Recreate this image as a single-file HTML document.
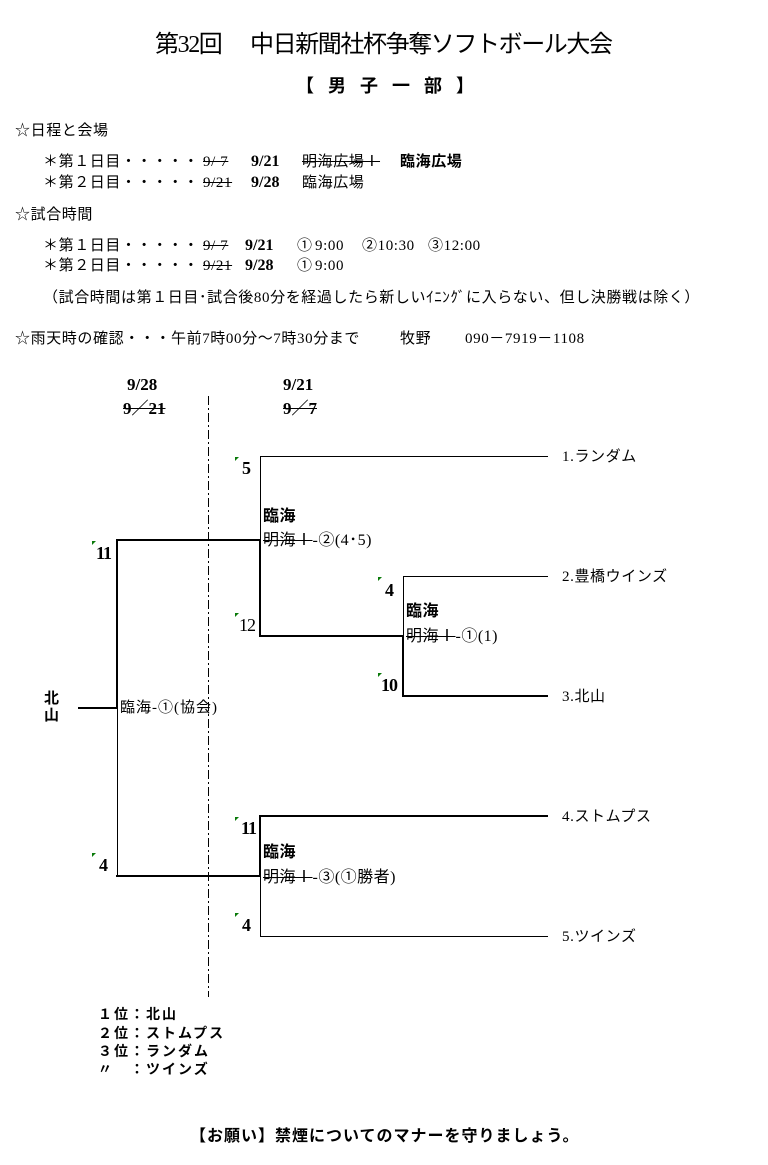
<!DOCTYPE html>
<html lang="ja">
<head>
<meta charset="utf-8">
<style>
html,body{margin:0;padding:0;background:#fff;}
#pg{position:relative;width:768px;height:1165px;overflow:hidden;background:#fff;}
.t{position:absolute;white-space:nowrap;font-family:"Liberation Serif","Noto Sans CJK JP",sans-serif;color:#000;line-height:1;}
.b{font-weight:bold;}
.s{text-decoration:line-through;}
.f15{font-size:15px;letter-spacing:.6px;}
.f16{font-size:16px;letter-spacing:.5px;}
.n{font-size:18px;font-weight:bold;letter-spacing:-1px;}
.h{font-size:17px;font-weight:bold;}
svg{position:absolute;left:0;top:0;}
</style>
</head>
<body>
<div id="pg">
<svg width="768" height="1165" viewBox="0 0 768 1165">
  <g stroke="#000" fill="none">
    <!-- dashed divider -->
    <line x1="208.5" y1="396" x2="208.5" y2="997" stroke-width="1" stroke-dasharray="9,3,2,3"/>
    <!-- final -->
    <line x1="78" y1="708" x2="118" y2="708" stroke-width="2"/>
    <line x1="117" y1="539" x2="117" y2="708" stroke-width="2"/>
    <line x1="117.5" y1="708" x2="117.5" y2="877" stroke-width="1"/>
    <line x1="116" y1="540" x2="261" y2="540" stroke-width="2"/>
    <line x1="116" y1="876" x2="261" y2="876" stroke-width="2"/>
    <!-- upper bracket -->
    <line x1="260" y1="456.5" x2="548" y2="456.5" stroke-width="1"/>
    <line x1="260.5" y1="456" x2="260.5" y2="540" stroke-width="1"/>
    <line x1="260" y1="539" x2="260" y2="637" stroke-width="2"/>
    <line x1="259" y1="636" x2="404" y2="636" stroke-width="2"/>
    <!-- inner bracket -->
    <line x1="403" y1="576.5" x2="548" y2="576.5" stroke-width="1"/>
    <line x1="403.5" y1="576" x2="403.5" y2="636" stroke-width="1"/>
    <line x1="403" y1="635" x2="403" y2="697" stroke-width="2"/>
    <line x1="402" y1="696" x2="548" y2="696" stroke-width="2"/>
    <!-- lower bracket -->
    <line x1="259" y1="816" x2="548" y2="816" stroke-width="2"/>
    <line x1="260" y1="815" x2="260" y2="877" stroke-width="2"/>
    <line x1="260.5" y1="876" x2="260.5" y2="936" stroke-width="1"/>
    <line x1="260" y1="936.5" x2="548" y2="936.5" stroke-width="1"/>
  </g>
  <g fill="#0a7a0a">
    <polygon points="235,457 239,457 235,461"/>
    <polygon points="92,541 96,541 92,545"/>
    <polygon points="235,613 239,613 235,617"/>
    <polygon points="378,577 382,577 378,581"/>
    <polygon points="378,673 382,673 378,677"/>
    <polygon points="235,817 239,817 235,821"/>
    <polygon points="92,853 96,853 92,857"/>
    <polygon points="235,913 239,913 235,917"/>
  </g>
</svg>

<!-- Title -->
<div class="t" style="left:155px;top:33px;font-size:24px;letter-spacing:-1.4px;">第32回</div>
<div class="t" style="left:250px;top:33px;font-size:24px;letter-spacing:-1.4px;">中日新聞社杯争奪ソフトボール大会</div>
<div class="t b" style="left:296px;top:77px;font-size:18px;letter-spacing:14px;">【男子一部】</div>

<!-- Schedule -->
<div class="t f15" style="left:15px;top:124px;">☆日程と会場</div>
<div class="t f15" style="left:43px;top:155px;">＊第１日目・・・・・</div>
<div class="t f15 s" style="left:203px;top:155px;">9/ 7</div>
<div class="t b" style="left:251px;top:154px;font-size:16px;">9/21</div>
<div class="t f15 s" style="left:302px;top:155px;">明海広場Ⅰ</div>
<div class="t f15 b" style="left:400px;top:155px;">臨海広場</div>

<div class="t f15" style="left:43px;top:176px;">＊第２日目・・・・・</div>
<div class="t f15 s" style="left:203px;top:176px;">9/21</div>
<div class="t b" style="left:251px;top:175px;font-size:16px;">9/28</div>
<div class="t f15" style="left:302px;top:176px;">臨海広場</div>

<div class="t f15" style="left:15px;top:208px;">☆試合時間</div>
<div class="t f15" style="left:43px;top:239px;">＊第１日目・・・・・</div>
<div class="t f15 s" style="left:203px;top:239px;">9/ 7</div>
<div class="t b" style="left:245px;top:238px;font-size:16px;">9/21</div>
<div class="t f15" style="left:297px;top:239px;">①</div>
<div class="t f15" style="left:315px;top:239px;">9:00</div>
<div class="t f15" style="left:362px;top:239px;">②10:30</div>
<div class="t f15" style="left:428px;top:239px;">③12:00</div>

<div class="t f15" style="left:43px;top:259px;">＊第２日目・・・・・</div>
<div class="t f15 s" style="left:203px;top:259px;">9/21</div>
<div class="t b" style="left:245px;top:258px;font-size:16px;">9/28</div>
<div class="t f15" style="left:297px;top:259px;">①</div>
<div class="t f15" style="left:315px;top:259px;">9:00</div>

<div class="t f15" style="left:43px;top:291px;">（試合時間は第１日目･試合後80分を経過したら新しいｲﾆﾝｸﾞに入らない、但し決勝戦は除く）</div>

<div class="t f15" style="left:15px;top:332px;">☆雨天時の確認・・・午前7時00分～7時30分まで</div>
<div class="t f15" style="left:400px;top:332px;">牧野</div>
<div class="t f15" style="left:465px;top:332px;">090－7919－1108</div>

<!-- Diagram headers -->
<div class="t h" style="left:127px;top:376px;">9/28</div>
<div class="t h s" style="left:123px;top:400px;">9／21</div>
<div class="t h" style="left:283px;top:376px;">9/21</div>
<div class="t h s" style="left:283px;top:400px;">9／7</div>

<!-- Team names -->
<div class="t f15" style="left:562px;top:450px;">1.ランダム</div>
<div class="t f15" style="left:562px;top:570px;">2.豊橋ウインズ</div>
<div class="t f15" style="left:562px;top:690px;">3.北山</div>
<div class="t f15" style="left:562px;top:810px;">4.ストムプス</div>
<div class="t f15" style="left:562px;top:930px;">5.ツインズ</div>

<!-- Scores -->
<div class="t n" style="left:242px;top:459px;">5</div>
<div class="t n" style="left:96px;top:544px;">11</div>
<div class="t" style="left:239px;top:616px;font-size:18px;letter-spacing:-1px;">12</div>
<div class="t n" style="left:385px;top:581px;">4</div>
<div class="t n" style="left:381px;top:676px;">10</div>
<div class="t n" style="left:241px;top:819px;">11</div>
<div class="t n" style="left:99px;top:856px;">4</div>
<div class="t n" style="left:242px;top:916px;">4</div>

<!-- Match labels -->
<div class="t f16 b" style="left:263px;top:509px;">臨海</div>
<div class="t f16" style="left:263px;top:533px;"><span class="s">明海Ⅰ</span>-②(4･5)</div>
<div class="t f16 b" style="left:406px;top:604px;">臨海</div>
<div class="t f16" style="left:406px;top:629px;"><span class="s">明海Ⅰ</span>-①(1)</div>
<div class="t f16 b" style="left:263px;top:845px;">臨海</div>
<div class="t f16" style="left:263px;top:870px;"><span class="s">明海Ⅰ</span>-③(①勝者)</div>

<div class="t f15 b" style="left:44px;top:692px;">北</div>
<div class="t f15 b" style="left:44px;top:709px;">山</div>
<div class="t f15" style="left:120px;top:701px;letter-spacing:1px;">臨海-①(協会)</div>

<!-- Ranking -->
<div class="t b" style="left:98px;top:1009px;font-size:14px;letter-spacing:2px;">１位：北山</div>
<div class="t b" style="left:98px;top:1028px;font-size:14px;letter-spacing:2px;">２位：ストムプス</div>
<div class="t b" style="left:98px;top:1046px;font-size:14px;letter-spacing:2px;">３位：ランダム</div>
<div class="t b" style="left:98px;top:1064px;font-size:14px;letter-spacing:2px;">〃　：ツインズ</div>

<!-- Footer -->
<div class="t b" style="left:190px;top:1129px;font-size:16px;letter-spacing:1px;">【お願い】禁煙についてのマナーを守りましょう。</div>
</div>
</body>
</html>
